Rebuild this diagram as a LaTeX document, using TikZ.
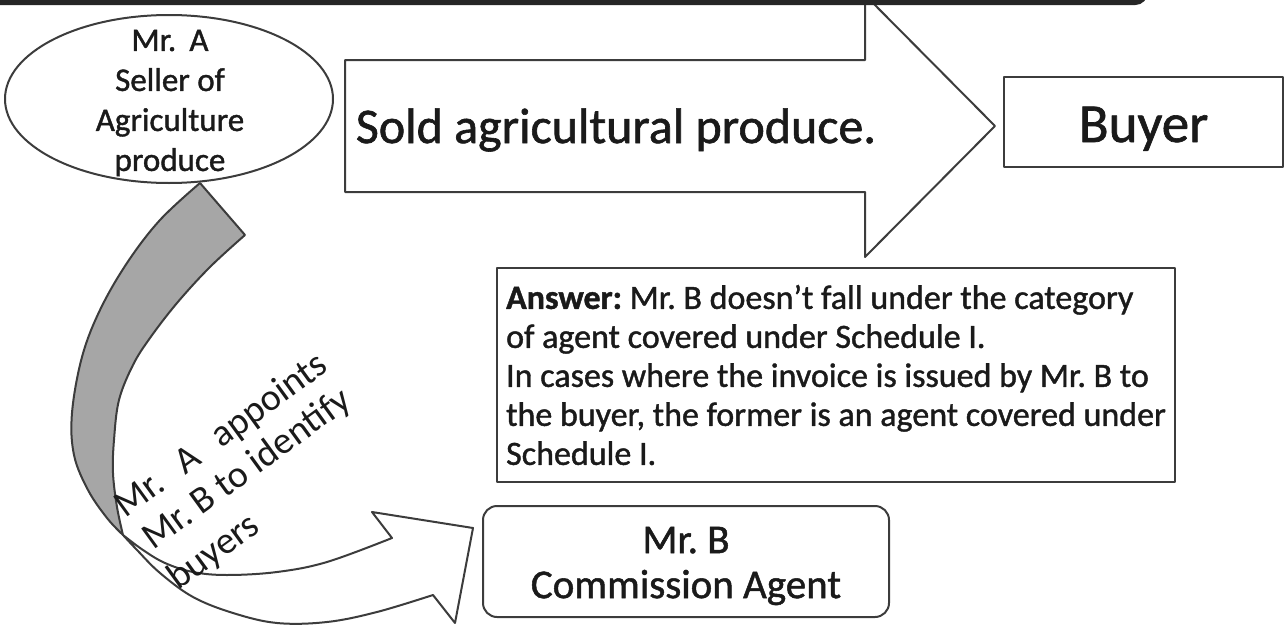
\documentclass[tikz,border=0pt]{standalone}
\usepackage{fontspec}
\setmainfont{Carlito}[FakeBold=1.2]
\newfontfamily\plainfont{Carlito}
\usetikzlibrary{shapes.geometric}
\definecolor{lineC}{HTML}{3C3C3C}
\definecolor{bandC}{HTML}{A6A6A6}
\definecolor{txtC}{HTML}{1A1A1A}
\begin{document}
\frenchspacing
\begin{tikzpicture}[x=1pt,y=-1pt,
  outl/.style={draw=lineC, line width=2pt, line join=round},
  txt/.style={text=txtC, inner sep=0pt},
  rot/.style={txt, rotate=36, anchor=base west, font=\plainfont\fontsize{38}{44}\selectfont}]
\useasboundingbox (0,0) rectangle (1286,629);
\clip (0,0) rectangle (1286,629);
% big arrow
\draw[outl, fill=white] (345,60) -- (865,60) -- (865,-5) -- (995,126) -- (865,257) -- (865,192) -- (345,192) -- cycle;
% top bar
\draw[draw=black!85, line width=6pt, rounded corners=10pt] (-40,-80) rectangle (1145,2);
% ellipse
\node[ellipse, outl, fill=white, minimum width=328pt, minimum height=168pt, inner sep=0pt] (A) at (169,99) {};
% curved arrow: gray back face
\filldraw[outl, fill=bandC] plot[smooth, tension=0.6] coordinates {(200,183) (160,220) (127,263) (100,310) (82,357) (72,413) (74,455) (88,490) (107,518) (123,535)}
  -- plot[smooth, tension=0.6] coordinates {(123,535) (117,507) (113,473) (114,440) (119,400) (133,365) (150,338) (177,303) (210,267) (245,235)} -- cycle;
% curved arrow: white front face with head
\filldraw[outl, fill=white] plot[smooth, tension=0.6] coordinates {(123,535) (143,550) (165,563) (193,572) (227,575) (277,572) (327,562) (392,538)}
  -- (372,512) -- (473,528) -- (455,623) -- (433,595)
  -- plot[smooth, tension=0.6] coordinates {(433,595) (377,612) (327,622) (277,623) (233,613) (193,597) (160,573) (137,550) (123,535)} -- cycle;
% texts and boxes
\node[txt, align=center, font=\fontsize{33}{40}\selectfont] (Atext) at (170,103) {Mr.\hspace{.4em}A\\Seller of\\Agriculture\\produce};
\node[txt, font=\fontsize{50}{60}\selectfont] (sold) at (616,130) {Sold agricultural produce.};
\node[outl, txt, minimum width=279pt, minimum height=90pt, text height=40pt, text depth=0pt, font=\fontsize{55}{60}\selectfont] (buyer) at (1143.5,122) {Buyer};
\node[outl, txt, minimum width=678pt, minimum height=214pt, align=left, font=\fontsize{34}{39}\selectfont] (ans) at (836,375)
  {\textbf{Answer:} Mr. B doesn’t fall under the category\\of agent covered under Schedule I.\\In cases where the invoice is issued by Mr. B to\\the buyer, the former is an agent covered under\\Schedule I.};
\node[outl, rounded corners=14pt, minimum width=406pt, minimum height=111pt, inner sep=0pt] (mrb) at (686,561.5) {};
\node[txt, align=center, font=\fontsize{41}{45}\selectfont] (mrbt) at (686,566) {Mr. B\\Commission Agent};
\node[rot] (l1) at (125,519) {Mr.\hspace{.6em}A\hspace{.6em}appoints};
\node[rot] (l2) at (153,551) {Mr. B to identify};
\node[rot] (l3) at (178,591) {buyers};
\end{tikzpicture}
\end{document}
